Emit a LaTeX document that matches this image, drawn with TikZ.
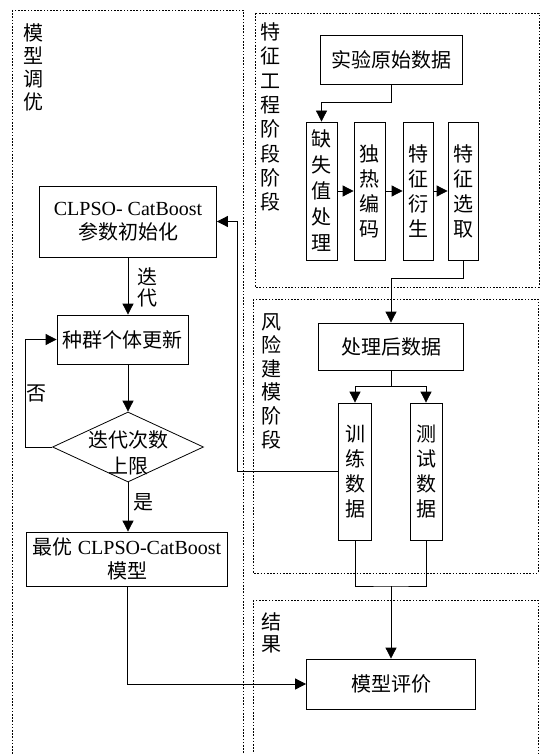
\documentclass[tikz,border=0pt]{standalone}
\usepackage{fontspec}
\setmainfont{Liberation Serif}
\newfontfamily\cjk{Noto Sans CJK SC}
\usetikzlibrary{arrows.meta,shapes.geometric}
\begin{document}
\begin{tikzpicture}[x=1pt,y=-1pt,
  blk/.style={draw, line width=0.8pt, inner sep=0pt, align=center, font=\fontsize{20}{24}\selectfont},
  cblk/.style={blk, font=\cjk\fontsize{20}{25}\selectfont},
  zone/.style={draw, line width=0.9pt, dash pattern=on 1.6pt off 1.6pt},
  conn/.style={line width=0.8pt},
  arr/.style={conn, -{Triangle[length=11pt,width=11pt]}},
  lbl/.style={inner sep=0pt, align=center, font=\cjk\fontsize{20}{23}\selectfont}]
\useasboundingbox (0,0) rectangle (540,754);
% zones
\draw[zone] (12,10) rectangle (243,770);
\draw[zone] (255,13) rectangle (539,287);
\draw[zone] (253,299) rectangle (538,573);
\draw[zone] (253,600) rectangle (538,770);
% zone labels
\node[lbl] (lz1) at (33,67.5) {模\\型\\调\\优};
\node[lbl, font=\cjk\fontsize{20}{24.3}\selectfont] (lz2) at (270,117) {特\\征\\工\\程\\阶\\段\\阶\\段};
\node[lbl, font=\cjk\fontsize{20}{23.6}\selectfont] (lz3) at (271,381) {风\\险\\建\\模\\阶\\段};
\node[lbl, font=\cjk\fontsize{20}{22}\selectfont] (lz4) at (271,632.5) {结\\果};
% feature engineering
\node[cblk, minimum width=142, minimum height=49] (raw) at (391,59.5) {实验原始数据};
\node[cblk, minimum width=31, minimum height=138, font=\cjk\fontsize{20}{26}\selectfont] (f1) at (321.5,191) {缺\\失\\值\\处\\理};
\node[cblk, minimum width=31, minimum height=138] (f2) at (369.5,191) {独\\热\\编\\码};
\node[cblk, minimum width=30, minimum height=138] (f3) at (418,191) {特\\征\\衍\\生};
\node[cblk, minimum width=30, minimum height=138] (f4) at (463,191) {特\\征\\选\\取};
% risk modelling
\node[cblk, minimum width=145, minimum height=47] (proc) at (391,346.5) {处理后数据};
\node[cblk, minimum width=33, minimum height=137] (train) at (355,471.5) {训\\练\\数\\据};
\node[cblk, minimum width=32, minimum height=137] (test) at (426,471.5) {测\\试\\数\\据};
% result
\node[cblk, minimum width=169, minimum height=50] (eval) at (391,684) {模型评价};
% tuning
\node[blk, minimum width=177, minimum height=71] (init) at (128,221.5) {CLPSO- CatBoost\\{\cjk 参数初始化}};
\node[cblk, minimum width=131, minimum height=49] (pop) at (122.5,339.5) {种群个体更新};
\node[draw, diamond, line width=0.8pt, inner sep=0pt, minimum width=151, minimum height=70] (dec) at (128,447) {};
\node[lbl, font=\cjk\fontsize{20}{26}\selectfont] (dect) at (128,453) {迭代次数\\上限};
\node[blk, minimum width=201, minimum height=54] (best) at (127,559) {{\cjk 最优} CLPSO-CatBoost\\{\cjk 模型}};
% edge labels
\node[lbl, font=\cjk\fontsize{20}{21}\selectfont] (ldd) at (147,287.5) {迭\\代};
\node[lbl] (lno) at (37,393) {否};
\node[lbl] (lyes) at (143,502) {是};
\coordinate (tl) at (237,0);
\coordinate (mg) at (391,586);
% connectors
\draw[arr] (raw.south) -- ++(0,18) -| (f1.north);
\draw[arr] (f1.east) -- (f2.west);
\draw[arr] (f2.east) -- (f3.west);
\draw[arr] (f3.east) -- (f4.west);
\draw[arr] (f4.south) -- ++(0,18) -| (proc.north);
\draw[arr] (proc.south) -- ++(0,16) -| (train.north);
\draw[arr] (proc.south) -- ++(0,16) -| (test.north);
\draw[arr] (train.west) -- (train.west -| tl) |- (init.east);
\draw[conn] (train.south) |- (mg) -| (test.south);
\draw[arr] (mg) -- (eval.north);
\draw[arr] (init.south) -- (init.south |- pop.north);
\draw[arr] (init.south |- pop.south) -- (dec.north);
\draw[arr] (dec.west) -- ++(-27,0) |- (pop.west);
\draw[arr] (dec.south) -- (dec.south |- best.north);
\draw[arr] (best.south) |- (eval.west);
\end{tikzpicture}
\end{document}
